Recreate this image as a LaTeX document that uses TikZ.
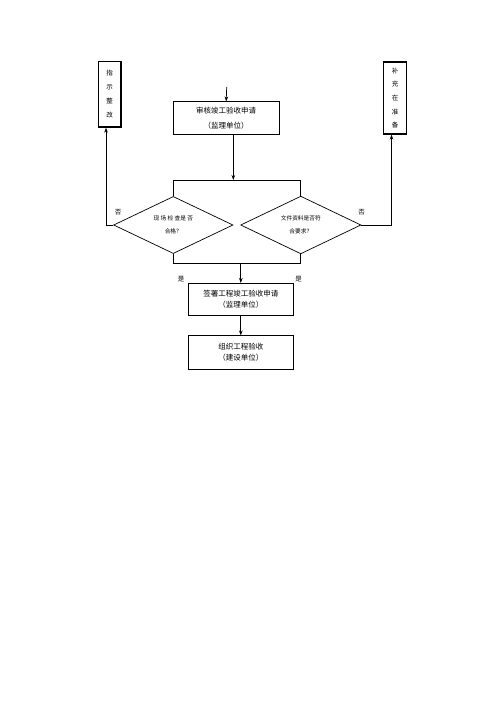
\documentclass[tikz,border=0pt]{standalone}
\usepackage{fontspec}
\newfontfamily\cjk{Noto Sans CJK SC}
\usetikzlibrary{shapes.geometric, arrows.meta, positioning}

\begin{document}
\begin{tikzpicture}[
    x=1pt, y=-1pt,
    font=\cjk,
    box/.style={rectangle, draw, line width=0.7pt, align=center, inner sep=0pt, font=\cjk\fontsize{7.5}{15}\selectfont},
    tallbox/.style={rectangle, draw, line width=1.3pt, align=center, inner sep=0pt, font=\cjk\fontsize{6.5}{14}\selectfont},
    decision/.style={diamond, draw, line width=0.7pt, align=center, inner sep=0pt, font=\cjk\fontsize{5.7}{12.5}\selectfont},
    arrow/.style={-{Stealth[length=5pt,width=3.6pt]}, line width=0.7pt},
    line/.style={line width=0.7pt},
    ans/.style={font=\cjk\fontsize{6.5}{8}\selectfont}
  ]
  \useasboundingbox (0,0) rectangle (500,707);

  % Bloques principales
  \node[box, minimum width=105.7pt, minimum height=32.3pt] (review) at (226.2,117.9) {审核竣工验收申请\\（监理单位）};
  \node[box, minimum width=105pt, minimum height=32.4pt, font=\cjk\fontsize{7.5}{11}\selectfont] (sign) at (240.8,299.5) {签署工程竣工验收申请\\（监理单位）};
  \node[box, minimum width=105pt, minimum height=33.3pt, font=\cjk\fontsize{7.5}{11}\selectfont] (accept) at (240.8,352.4) {组织工程验收\\（建设单位）};

  % Decisiones
  \node[decision, minimum width=119.4pt, minimum height=51.4pt] (site) at (173.3,225) {现 场 检 查是 否\\合格？};
  \node[decision, minimum width=120.3pt, minimum height=51.4pt] (docs) at (300.8,225) {文件资料是否符\\合要求？};

  % Bloques laterales
  \node[tallbox, minimum width=22.7pt, minimum height=65.3pt] (fix) at (109.7,94.4) {指\\示\\整\\改};
  \node[tallbox, minimum width=23.4pt, minimum height=72pt, font=\cjk\fontsize{6.5}{13.6}\selectfont] (supp) at (395,98) {补\\充\\在\\准\\备};

  % Puntos auxiliares
  \coordinate (start) at (226.7,87);
  \coordinate (split) at (233.3,180);
  \coordinate (join) at (240.8,263.3);

  % Flechas
  \draw[arrow] (start) -- (review.north);
  \draw[arrow] (review.south -| split) -- (split);
  \draw[line] (site.north) -- (site.north |- split) -- (docs.north |- split) -- (docs.north);
  \draw[line] (site.south) -- (site.south |- join) -- (docs.south |- join) -- (docs.south);
  \draw[arrow] (join) -- (sign.north);
  \draw[arrow] (sign.south) -- (accept.north);
  \draw[arrow] (site.west) -| ([xshift=-3.7pt]fix.south);
  \draw[arrow] (docs.east) -| ([xshift=-3.5pt]supp.south);

  % Etiquetas
  \node[ans] (no1) at (118,212.7) {否};
  \node[ans] (no2) at (361.7,212.7) {否};
  \node[ans] (yes1) at (181,279) {是};
  \node[ans] (yes2) at (298.5,279) {是};
\end{tikzpicture}
\end{document}
